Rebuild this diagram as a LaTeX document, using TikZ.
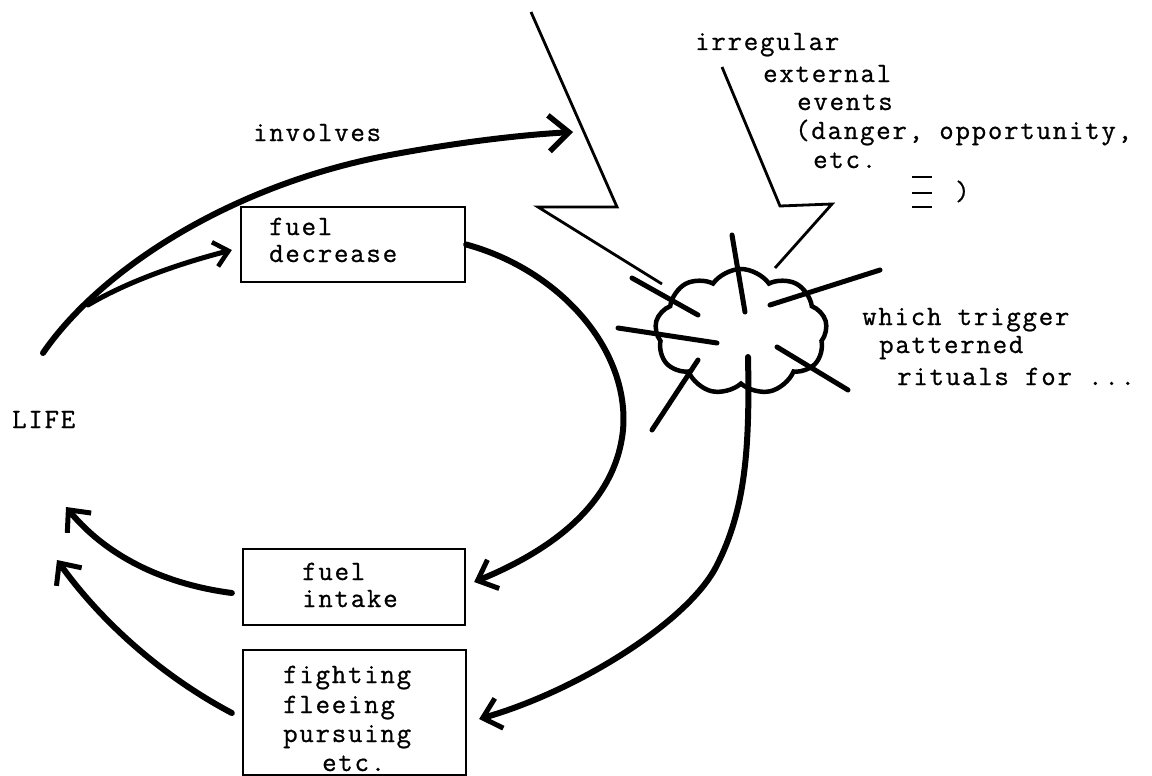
\documentclass[tikz,border=0pt]{standalone}
\usepackage{fontspec}
\usetikzlibrary{arrows.meta,shapes.symbols}
\newfontfamily\tw{Latin Modern Mono}[LetterSpace=6.4,FakeBold=0.8]
\begin{document}
\begin{tikzpicture}[x=1pt,y=-1pt,
  txt/.style={anchor=base west,inner sep=0pt,font=\tw\fontsize{28}{30}\selectfont},
  box/.style={draw,line width=2.3pt,inner sep=0pt},
  bolt/.style={line width=2.8pt,line join=miter},
  ray/.style={line width=5pt,line cap=round},
  flow/.style={line width=6pt,line cap=round},
  bighead/.style={-{Straight Barb[length=20pt,width=36pt,line width=5.5pt]}},
  midhead/.style={-{Straight Barb[length=17pt,width=31pt,line width=5pt]}},
  smallhead/.style={-{Straight Barb[length=14pt,width=25pt,line width=4.5pt]}}]
\useasboundingbox (0,0) rectangle (1152,776);

% boxes
\node[box,minimum width=224pt,minimum height=75pt] (fd) at (353,244.5) {};
\node[box,minimum width=222pt,minimum height=76pt] (fi) at (354,587) {};
\node[box,minimum width=223pt,minimum height=125pt] (ff) at (354.5,712.5) {};

% box labels
\node[txt] (fd1) at (269,235) {fuel};
\node[txt] (fd2) at (269,262) {decrease};
\node[txt] (fi1) at (302,580) {fuel};
\node[txt] (fi2) at (302,607) {intake};
\node[txt] (ff1) at (283,683) {fighting};
\node[txt] (ff2) at (283,713) {fleeing};
\node[txt] (ff3) at (283,742) {pursuing};
\node[txt] (ff4) at (322,771) {etc.};

% free labels
\node[txt] (life) at (12,428) {LIFE};
\node[txt] (inv) at (253,141) {involves};
\node[txt] (ev1) at (695,50) {irregular};
\node[txt] (ev2) at (763,82) {external};
\node[txt] (ev3) at (797,110) {events};
\node[txt] (ev4) at (795,139) {(danger, opportunity,};
\node[txt] (ev5) at (813,168) {etc.};
\node[txt] (ev6) at (955,200) {)};
\node[txt] (tr1) at (862,325) {which trigger};
\node[txt] (tr2) at (879,353) {patterned};
\node[txt] (tr3) at (897,385) {rituals for ...};

% overstruck sign before the closing parenthesis
\draw[line width=2.2pt] (912,177) -- (932,177) (912,193) -- (932,193) (912,207) -- (932,207);

% lightning bolts
\draw[bolt] (531,12) -- (617,207) -- (538,207) -- (662,284);
\draw[bolt] (722,67) -- (780,206) -- (832,204) -- (775,268);

% burst
\node[cloud,draw,line width=4.5pt,cloud puffs=9,cloud puff arc=110,cloud ignores aspect,
      minimum width=172pt,minimum height=126pt] (cl) at (741,332) {};
\draw[ray] (732,235) -- (745,312);
\draw[ray] (632,278) -- (698,315);
\draw[ray] (618,328) -- (717,343);
\draw[ray] (698,360) -- (652,430);
\draw[ray] (777,347) -- (848,390);
\draw[ray] (770,305) -- (880,270);

% connector anchors
\coordinate (start) at (43,353);
\coordinate (fork) at (88,305);
\coordinate (hit) at (573,132);
\coordinate (clout) at (748,357);
\coordinate (lifeA) at (66,507);
\coordinate (lifeB) at (57,560);

% connectors
\draw[flow,bighead] (start) .. controls (100,270) and (230,185) .. (390,155)
   .. controls (460,142) and (520,135) .. (hit);
\draw[flow,smallhead,line width=5pt] (fork) .. controls (130,280) and (185,262) .. ([xshift=-8pt]fd.west |- 0,250);
\draw[flow,midhead] (fd.east) .. controls (560,270) and (630,350) .. (623,430)
   .. controls (615,510) and (540,555) .. ([xshift=8pt]fi.east |- 0,582);
\draw[flow,midhead] (clout) .. controls (750,450) and (745,510) .. (717,565)
   .. controls (690,620) and (580,690) .. ([xshift=12pt]ff.east |- 0,719);
\draw[flow,midhead] ([xshift=-10pt]fi.west |- 0,593) .. controls (170,585) and (110,560) .. (lifeA);
\draw[flow,midhead] ([xshift=-10pt]ff.west |- 0,713) .. controls (160,675) and (100,620) .. (lifeB);
\end{tikzpicture}
\end{document}
